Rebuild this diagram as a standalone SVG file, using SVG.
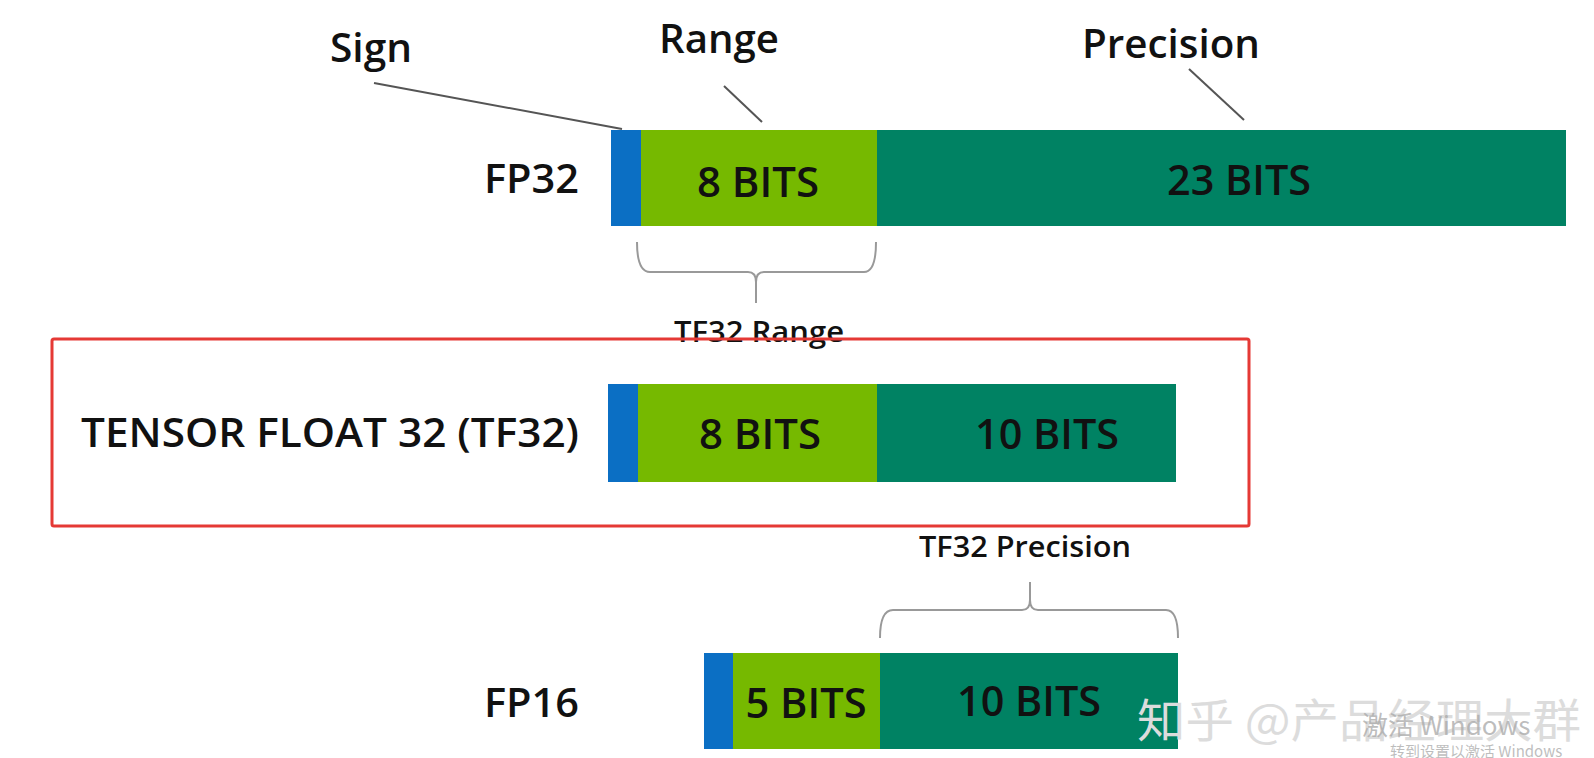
<svg xmlns="http://www.w3.org/2000/svg" width="1594" height="758" viewBox="0 0 1594 758">
<style>
.t{font-family:"Open Sans","DejaVu Sans",sans-serif;fill:#111;font-weight:600;}
.lbl{font-size:40px;}
.bits{font-size:42px;text-anchor:middle;}
.small{font-size:28px;text-anchor:middle;}
.lead{stroke:#555;stroke-width:2;fill:none;}
.brace{stroke:#999;stroke-width:2;fill:none;}
.sign{fill:#0b6fc4;}
.rng{fill:#76b900;}
.prec{fill:#008263;}
.wm{font-family:"Noto Sans CJK SC",sans-serif;font-size:46px;fill:#dcdcdc;}
.win{font-family:"Noto Sans CJK SC",sans-serif;fill:#a8a8a8;fill-opacity:0.75;}
</style>
<rect width="1594" height="758" fill="#fff"/>
<g id="headers">
<text class="t lbl" x="330" y="62" textLength="82" lengthAdjust="spacingAndGlyphs">Sign</text>
<text class="t lbl" x="659" y="53" textLength="120" lengthAdjust="spacingAndGlyphs">Range</text>
<text class="t lbl" x="1082" y="58" textLength="178" lengthAdjust="spacingAndGlyphs">Precision</text>
</g>
<g id="connectors">
<line class="lead" x1="374" y1="83" x2="622" y2="129"/>
<line class="lead" x1="724" y1="86" x2="762" y2="122"/>
<line class="lead" x1="1189" y1="69" x2="1244" y2="120"/>
<path class="brace" d="M637 242 Q637 272 650 272 L748 272 Q756 272 756 282 L756 303 M756 282 Q756 272 764 272 L864 272 Q876 272 876 242"/>
<path class="brace" d="M880 638 Q880 610 893 610 L1022 610 Q1030 610 1030 600 L1030 582 M1030 600 Q1030 610 1038 610 L1166 610 Q1178 610 1178 638"/>
</g>
<g id="fp32">
<text class="t lbl" x="484" y="193" textLength="95" lengthAdjust="spacingAndGlyphs">FP32</text>
<rect class="sign" x="611" y="130" width="30" height="96"/>
<rect class="rng" x="641" y="130" width="236" height="96"/>
<rect class="prec" x="877" y="130" width="689" height="96"/>
<text class="t bits" x="758" y="197" textLength="122" lengthAdjust="spacingAndGlyphs">8 BITS</text>
<text class="t bits" x="1239" y="195" textLength="144" lengthAdjust="spacingAndGlyphs">23 BITS</text>
</g>
<g id="tf32-range-label">
<text class="t small" x="759" y="342" textLength="170" lengthAdjust="spacingAndGlyphs">TF32 Range</text>
</g>
<g id="tf32">
<rect x="52" y="339" width="1197" height="187" fill="none" stroke="#e53935" stroke-width="3" rx="2"/>
<text class="t lbl" x="81" y="447" textLength="498" lengthAdjust="spacingAndGlyphs">TENSOR FLOAT 32 (TF32)</text>
<rect class="sign" x="608" y="384" width="30" height="98"/>
<rect class="rng" x="638" y="384" width="239" height="98"/>
<rect class="prec" x="877" y="384" width="299" height="98"/>
<text class="t bits" x="760" y="449" textLength="122" lengthAdjust="spacingAndGlyphs">8 BITS</text>
<text class="t bits" x="1047" y="449" textLength="144" lengthAdjust="spacingAndGlyphs">10 BITS</text>
</g>
<g id="tf32-precision-label">
<text class="t small" x="1025" y="557" textLength="212" lengthAdjust="spacingAndGlyphs">TF32 Precision</text>
</g>
<g id="fp16">
<text class="t lbl" x="484" y="717" textLength="95" lengthAdjust="spacingAndGlyphs">FP16</text>
<rect class="sign" x="704" y="653" width="29" height="96"/>
<rect class="rng" x="733" y="653" width="147" height="96"/>
<rect class="prec" x="880" y="653" width="298" height="96"/>
<text class="t bits" x="806" y="718" textLength="121" lengthAdjust="spacingAndGlyphs">5 BITS</text>
<text class="t bits" x="1029" y="716" textLength="144" lengthAdjust="spacingAndGlyphs">10 BITS</text>
</g>
<g id="watermark">
<text class="wm" x="1137" y="737" textLength="444" lengthAdjust="spacingAndGlyphs">知乎 @产品经理大群</text>
<text class="win" x="1362" y="735" font-size="26">激活 Windows</text>
<text class="win" x="1390" y="757" font-size="15">转到设置以激活 Windows</text>
</g>
</svg>
